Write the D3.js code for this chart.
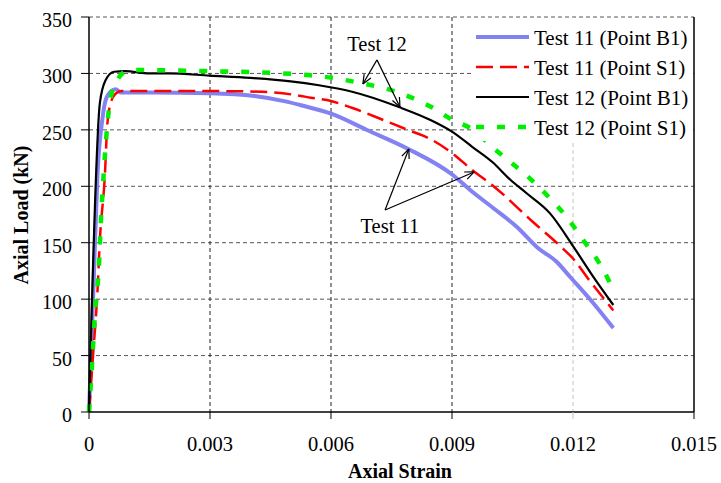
<!DOCTYPE html>
<html><head><meta charset="utf-8">
<script src="https://cdn.jsdelivr.net/npm/d3@7"></script>
<style>
body{margin:0;background:#fff;}
svg{display:block;}
text{font-family:"Liberation Serif","DejaVu Serif","Times New Roman",serif;}
</style></head>
<body><svg id="c" width="721" height="483" font-family="Liberation Serif, DejaVu Serif, serif"></svg>
<script>
// ---- data (strain, load kN) ----
const test11B1 = [[0,0],[0.00012,120],[0.00021,210],[0.00033,259],[0.00041,276],[0.00054,284],[0.00066,286],[0.0008,283],[0.0015,283],[0.003,282.4],[0.0041,280],[0.0049,275],[0.00523,272],[0.00602,264.1],[0.00689,249.9],[0.00788,233.7],[0.00902,210],[0.00945,196.7],[0.01002,180.8],[0.01061,163.9],[0.01113,145.3],[0.0116,132.9],[0.01193,119.6],[0.0125,96.6],[0.013,74.4]];
const test11S1 = [[0,0],[0.0001,50],[0.00022,114],[0.00026,146],[0.0004,214],[0.00045,253],[0.00054,274],[0.00066,282],[0.0008,284.5],[0.0015,284.5],[0.003,284.4],[0.004,284],[0.0045,283.3],[0.0051,281],[0.0055,278.5],[0.006,275.5],[0.00655,269.1],[0.0073,258.7],[0.0079,250],[0.0084,243],[0.009,229.5],[0.0095,214.4],[0.01,201],[0.011,168.6],[0.0117,146.5],[0.012,136],[0.0124,117],[0.013,90]];
const test12B1 = [[0,0],[0.00027,274],[0.00041,294],[0.00062,301.5],[0.0009,302],[0.0015,300],[0.002,300],[0.003,298],[0.004,296],[0.005,293],[0.0057,289.5],[0.0065,284],[0.0077,270],[0.00845,259],[0.009,248.4],[0.0095,235],[0.01,221.5],[0.01044,206],[0.01085,193.8],[0.01143,176],[0.01201,146.5],[0.0125,120],[0.013,94.8]];
const test12S1 = [[0,0],[0.00008,45],[0.00015,88],[0.00025,132],[0.00029,165],[0.00037,214],[0.00045,253],[0.00054,279],[0.0007,294],[0.0009,301.5],[0.0012,303],[0.003,302],[0.00506,299.5],[0.0056,298],[0.0068,291],[0.0076,284],[0.0081,277],[0.0085,270],[0.009,259],[0.00953,249.9],[0.00994,236.6],[0.01106,202.6],[0.01143,189.3],[0.0118,174.6],[0.01205,162.8],[0.01234,148],[0.01263,133.2],[0.0129,115.5],[0.013,107]];
const seriesNames = ["Test 11 (Point B1)","Test 11 (Point S1)","Test 12 (Point B1)","Test 12 (Point S1)"];
const xTicks = [0,0.003,0.006,0.009,0.012,0.015];
const xTickLabels = ["0","0.003","0.006","0.009","0.012","0.015"];
const yTicks = [0,50,100,150,200,250,300,350];
const annotations = [
  {text:"Test 12", label:[0.00714,320], base:[0.00714,312], tips:[[0.00679,290.6],[0.00771,270.2]]},
  {text:"Test 11", label:[0.00746,158.6], base:[0.00734,179], tips:[[0.00793,233],[0.00955,212.7]]}
];

// ---- layout ----
const FONT = "Liberation Serif, DejaVu Serif, serif";
const svg = d3.select("#c");
const L=89, R=694, T=17, B=412;
const x = d3.scaleLinear().domain([0,0.015]).range([L,R]);
const y = d3.scaleLinear().domain([0,350]).range([B,T]);

// grid
const g = svg.append("g");
yTicks.filter(v=>v>0).forEach(v=>{
  g.append("line").attr("x1",L).attr("x2",R).attr("y1",y(v)).attr("y2",y(v))
   .attr("stroke","#555").attr("stroke-width",1).attr("stroke-dasharray","4,3");
});
xTicks.filter(v=>v>0 && v<0.015).forEach(v=>{
  g.append("line").attr("x1",x(v)).attr("x2",x(v)).attr("y1",T).attr("y2",B)
   .attr("stroke", v>0.0115 ? "#c4c4c4" : "#222").attr("stroke-width",1).attr("stroke-dasharray","4,3");
});

// series
const line = d3.line().x(d=>x(d[0])).y(d=>y(d[1])).curve(d3.curveMonotoneX);
const styles = [
  {data:test11B1, color:"#8282f2", w:4, dash:null},
  {data:test11S1, color:"#ff0000", w:2.5, dash:"17,7"},
  {data:test12B1, color:"#000000", w:2.2, dash:null},
  {data:test12S1, color:"#00ee00", w:4.5, dash:"8,13"}
];
styles.forEach(s=>{
  svg.append("path").attr("d",line(s.data)).attr("fill","none")
    .attr("stroke",s.color).attr("stroke-width",s.w)
    .attr("stroke-dasharray",s.dash).attr("stroke-linejoin","round");
});

// axes frame
svg.append("line").attr("x1",L).attr("x2",L).attr("y1",T).attr("y2",B).attr("stroke","#000").attr("stroke-width",1.5);
svg.append("line").attr("x1",L).attr("x2",R).attr("y1",B).attr("y2",B).attr("stroke","#000").attr("stroke-width",1.5);
svg.append("line").attr("x1",R).attr("x2",R).attr("y1",T).attr("y2",B).attr("stroke","#000").attr("stroke-width",1.5);

// y ticks
yTicks.forEach(v=>{
  svg.append("line").attr("x1",L-8).attr("x2",L).attr("y1",y(v)).attr("y2",y(v)).attr("stroke","#000").attr("stroke-width",1);
  svg.append("text").attr("x",72).attr("y",y(v)+10).attr("text-anchor","end")
    .attr("font-family",FONT).attr("font-size",20).text(v);
});
// x ticks
xTicks.forEach((v,i)=>{
  svg.append("line").attr("x1",x(v)).attr("x2",x(v)).attr("y1",B).attr("y2",B+7)
    .attr("stroke", (v>0.0115 && v<0.0145) ? "#c4c4c4":"#000").attr("stroke-width",1);
  svg.append("text").attr("x",x(v)).attr("y",451).attr("text-anchor","middle")
    .attr("font-family",FONT).attr("font-size",20.5).text(xTickLabels[i]);
});

// axis titles
svg.append("text").attr("x",400).attr("y",478).attr("text-anchor","middle")
  .attr("font-family",FONT).attr("font-size",20).attr("font-weight","bold").text("Axial Strain");
svg.append("text").attr("transform","translate(28,215) rotate(-90)").attr("text-anchor","middle")
  .attr("font-family",FONT).attr("font-size",20).attr("font-weight","bold").text("Axial Load (kN)");

// annotations
annotations.forEach(a=>{
  svg.append("text").attr("x",x(a.label[0])).attr("y",y(a.label[1])).attr("text-anchor","middle")
    .attr("font-family",FONT).attr("font-size",20.5).text(a.text);
  const bx=x(a.base[0]), by=y(a.base[1]);
  a.tips.forEach(t=>{
    const tx=x(t[0]), ty=y(t[1]);
    svg.append("line").attr("x1",bx).attr("y1",by).attr("x2",tx).attr("y2",ty).attr("stroke","#000").attr("stroke-width",1.2);
    const ang=Math.atan2(ty-by,tx-bx), len=10, spread=0.4;
    [ang+Math.PI-spread, ang+Math.PI+spread].forEach(a2=>{
      svg.append("line").attr("x1",tx).attr("y1",ty)
        .attr("x2",tx+len*Math.cos(a2)).attr("y2",ty+len*Math.sin(a2))
        .attr("stroke","#000").attr("stroke-width",1.2);
    });
  });
});

// legend
const lg = svg.append("g");
lg.append("rect").attr("x",471).attr("y",T+1).attr("width",R-471-1).attr("height",123).attr("fill","#fff");
styles.forEach((s,i)=>{
  const yy = 37 + i*30;
  lg.append("line").attr("x1",476).attr("x2",529).attr("y1",yy).attr("y2",yy)
    .attr("stroke",s.color).attr("stroke-width",s.w).attr("stroke-dasharray",s.dash);
  lg.append("text").attr("x",534).attr("y",yy+8).attr("font-family",FONT).attr("font-size",21).text(seriesNames[i]);
});
</script></body></html>
